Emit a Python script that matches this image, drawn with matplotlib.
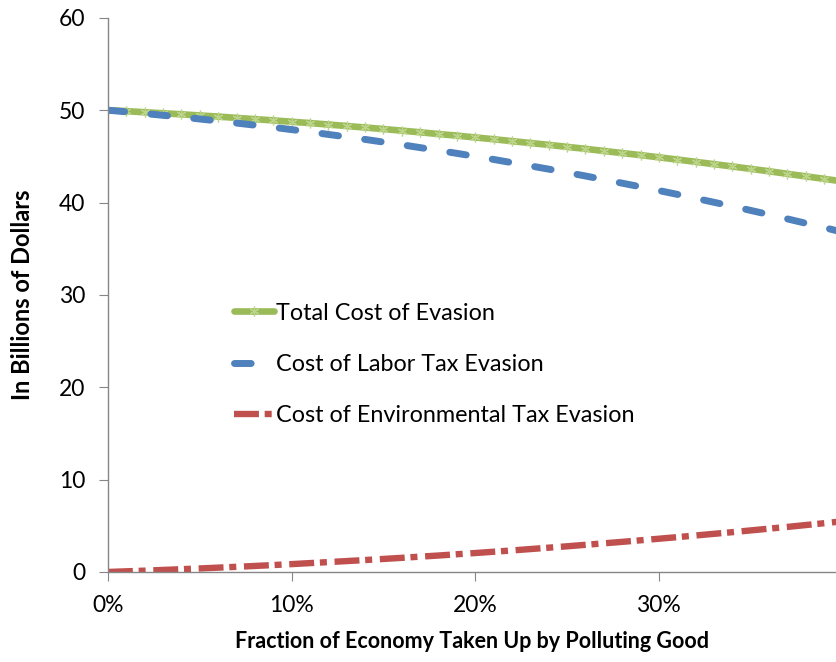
import matplotlib
matplotlib.use("Agg")
import matplotlib.pyplot as plt
from matplotlib.ticker import PercentFormatter

# share of the economy taken up by the polluting good (0% .. 40%)
share = [i / 100 for i in range(41)]

labor_cost = [50.00, 49.83, 49.64, 49.45, 49.26, 49.05, 48.84, 48.61, 48.38, 48.15,
              47.90, 47.65, 47.38, 47.11, 46.84, 46.55, 46.26, 45.95, 45.64, 45.33,
              45.00, 44.67, 44.32, 43.97, 43.62, 43.25, 42.88, 42.49, 42.10, 41.71,
              41.30, 40.89, 40.46, 40.03, 39.60, 39.15, 38.70, 38.23, 37.76, 37.29,
              36.80]

env_cost = [0.00, 0.07, 0.14, 0.22, 0.30, 0.38, 0.47, 0.56, 0.65, 0.75,
            0.85, 0.96, 1.07, 1.18, 1.29, 1.41, 1.53, 1.66, 1.78, 1.92,
            2.05, 2.19, 2.33, 2.48, 2.63, 2.78, 2.94, 3.10, 3.26, 3.43,
            3.60, 3.77, 3.95, 4.13, 4.31, 4.50, 4.69, 4.88, 5.08, 5.28,
            5.49]

total_cost = [50.00, 49.90, 49.78, 49.67, 49.56, 49.43, 49.31, 49.17, 49.03, 48.90,
              48.75, 48.61, 48.45, 48.29, 48.13, 47.96, 47.79, 47.61, 47.42, 47.25,
              47.05, 46.86, 46.65, 46.45, 46.25, 46.03, 45.82, 45.59, 45.36, 45.14,
              44.90, 44.66, 44.41, 44.16, 43.91, 43.65, 43.39, 43.11, 42.84, 42.57,
              42.29]

labels = ["Total Cost of Evasion", "Cost of Labor Tax Evasion",
          "Cost of Environmental Tax Evasion"]

plt.rcParams['font.family'] = ['Lato', 'DejaVu Sans']

fig = plt.figure(figsize=(8.37, 6.62), dpi=100)
ax = fig.add_axes([0.129, 0.136, 0.871, 0.837])

ax.plot(share, total_cost, color='#9BBB59', lw=4.8, label=labels[0],
        marker=(6, 2, 0), ms=7, mec='#bcd58a', mew=0.9, solid_capstyle='round')
ax.plot(share, labor_cost, color='#4F81BD', lw=5, label=labels[1],
        dashes=(2.4, 3.8), dash_capstyle='round')
ax.plot(share, env_cost, color='#C0504D', lw=4.6, label=labels[2],
        dashes=(3.9, 0.9, 1.1, 1.2))

ax.set_xlim(0, 0.397)
ax.set_ylim(0, 60)
ax.set_xticks([0, 0.1, 0.2, 0.3])
ax.set_yticks(range(0, 61, 10))
ax.xaxis.set_major_formatter(PercentFormatter(1.0, decimals=0))

for side in ['top', 'right']:
    ax.spines[side].set_visible(False)
for side in ['left', 'bottom']:
    ax.spines[side].set_color('#868686')
    ax.spines[side].set_linewidth(1)
ax.tick_params(direction='out', length=6.5, color='#868686', labelsize=16.5)
ax.tick_params(axis='y', pad=10)
ax.tick_params(axis='x', pad=10)

ax.set_xlabel("Fraction of Economy Taken Up by Polluting Good", fontsize=15.5,
              fontweight='bold', labelpad=11)
ax.set_ylabel("In Billions of Dollars", fontsize=17, fontweight='bold', labelpad=18)

leg = ax.legend(loc='upper left', bbox_to_anchor=(0.144, 0.524), frameon=False,
                fontsize=16.8, labelspacing=1.3, handlelength=1.7, handletextpad=0.1)

fig.savefig("out.png", dpi=100)
